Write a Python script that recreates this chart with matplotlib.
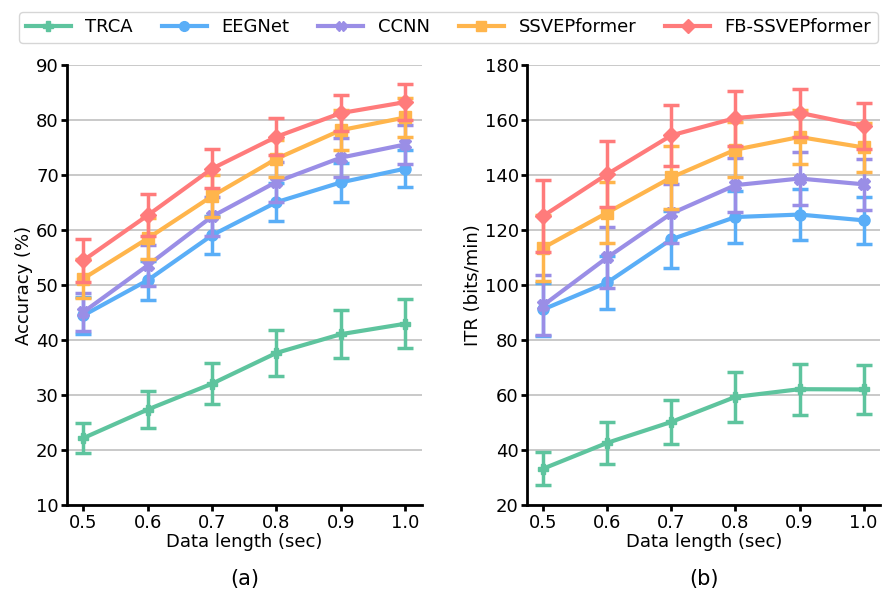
import matplotlib
matplotlib.use("Agg")
import matplotlib.pyplot as plt
from matplotlib.lines import Line2D
import numpy as np

x = [0.5, 0.6, 0.7, 0.8, 0.9, 1.0]
methods = ["TRCA", "EEGNet", "CCNN", "SSVEPformer", "FB-SSVEPformer"]
colors = ["#5ec49e", "#5aaef7", "#9a8ee6", "#ffb54c", "#ff7b7b"]
markers = ["P", "o", "X", "s", "D"]

acc_trca = [22.2, 27.4, 32.1, 37.7, 41.1, 43.0]
acc_trca_err = [2.7, 3.3, 3.7, 4.2, 4.4, 4.5]
acc_eegnet = [44.5, 50.9, 59.1, 65.1, 68.7, 71.2]
acc_eegnet_err = [3.3, 3.5, 3.5, 3.4, 3.6, 3.3]
acc_ccnn = [45.1, 53.6, 62.5, 68.8, 73.2, 75.6]
acc_ccnn_err = [3.5, 3.7, 3.6, 3.6, 3.6, 3.5]
acc_ssvep = [51.2, 58.5, 66.2, 73.0, 78.2, 80.5]
acc_ssvep_err = [3.6, 3.7, 3.8, 3.4, 3.7, 3.5]
acc_fb = [54.5, 62.7, 71.2, 77.0, 81.3, 83.3]
acc_fb_err = [3.9, 3.8, 3.5, 3.4, 3.3, 3.2]

itr_trca = [33.3, 42.7, 50.3, 59.4, 62.2, 62.1]
itr_trca_err = [6.0, 7.6, 8.0, 9.0, 9.3, 8.8]
itr_eegnet = [91.2, 101.0, 116.7, 124.8, 125.7, 123.6]
itr_eegnet_err = [9.7, 9.8, 10.3, 9.5, 9.2, 8.5]
itr_ccnn = [92.7, 110.1, 126.1, 136.4, 138.8, 136.7]
itr_ccnn_err = [10.9, 11.1, 10.6, 9.9, 9.7, 9.2]
itr_ssvep = [113.6, 126.4, 139.2, 149.3, 153.9, 150.1]
itr_ssvep_err = [12.0, 11.0, 11.6, 10.0, 9.9, 9.0]
itr_fb = [125.2, 140.4, 154.5, 160.8, 162.7, 157.9]
itr_fb_err = [13.0, 12.1, 11.2, 10.0, 8.8, 8.4]

acc = [acc_trca, acc_eegnet, acc_ccnn, acc_ssvep, acc_fb]
acc_err = [acc_trca_err, acc_eegnet_err, acc_ccnn_err, acc_ssvep_err, acc_fb_err]
itr = [itr_trca, itr_eegnet, itr_ccnn, itr_ssvep, itr_fb]
itr_err = [itr_trca_err, itr_eegnet_err, itr_ccnn_err, itr_ssvep_err, itr_fb_err]

fig = plt.figure(figsize=(8.83, 5.93), dpi=100)
ax1 = fig.add_axes([0.076, 0.148, 0.402, 0.742])
ax2 = fig.add_axes([0.597, 0.148, 0.400, 0.742])

msizes = [7, 8, 8, 8, 8]
for ax, data, errs, ylab, ylim, yt, tag in [
        (ax1, acc, acc_err, "Accuracy (%)", (10, 90), np.arange(10, 91, 10), "(a)"),
        (ax2, itr, itr_err, "ITR (bits/min)", (20, 180), np.arange(20, 181, 20), "(b)")]:
    for i in range(5):
        ax.errorbar(x, data[i], yerr=errs[i], color=colors[i], marker=markers[i],
                    markersize=msizes[i], linewidth=3, elinewidth=2.5, capsize=6,
                    capthick=2.5, label=methods[i], zorder=3 + i)
    ax.set_ylim(*ylim)
    ax.set_yticks(yt)
    ax.set_xticks(x)
    ax.set_xticklabels(["0.5", "0.6", "0.7", "0.8", "0.9", "1.0"])
    ax.set_xlim(0.475, 1.026)
    ax.grid(axis="y", color="#c0c0c0", linewidth=1.2, zorder=0)
    ax.set_axisbelow(True)
    for s in ["top", "right"]:
        ax.spines[s].set_visible(False)
    for s in ["left", "bottom"]:
        ax.spines[s].set_linewidth(2)
        ax.spines[s].set_color("black")
    ax.tick_params(labelsize=13, width=2, length=4, pad=2)
    ax.set_ylabel(ylab, fontsize=13, labelpad=2)
    ax.set_xlabel("Data length (sec)", fontsize=13, labelpad=1)
    ax.text(0.5, -0.145, tag, transform=ax.transAxes, ha="center", va="top", fontsize=15)

handles = [Line2D([0], [0], color=colors[i], marker=markers[i], markersize=7,
                  linewidth=3) for i in range(5)]
fig.legend(handles=handles, labels=methods, loc="upper center", ncol=5,
           bbox_to_anchor=(0.508, 0.995), fontsize=13, frameon=True, fancybox=True,
           handlelength=2.5, columnspacing=1.6, handletextpad=0.8, borderpad=0.35)

fig.savefig("out.png", dpi=100)
